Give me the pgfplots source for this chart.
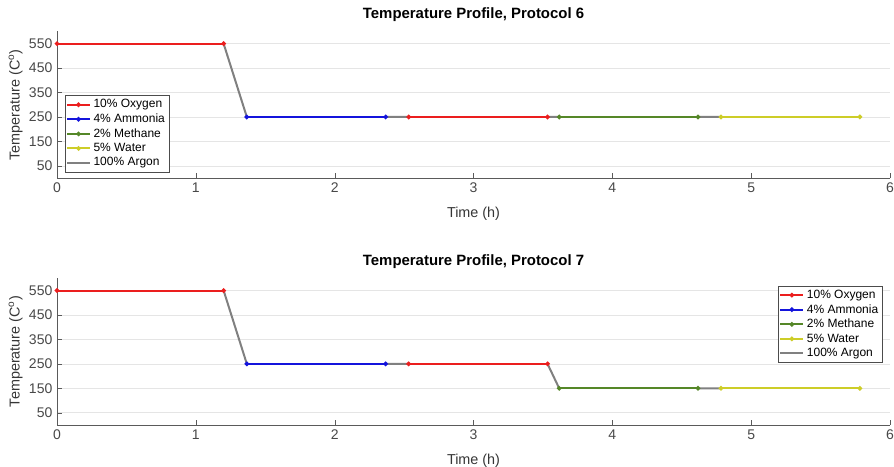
\documentclass[border=0pt]{standalone}
\usepackage{pgfplots}
\pgfplotsset{compat=1.18}
\usepackage{fontspec}
\setmainfont{Liberation Sans}
\definecolor{cred}{RGB}{235,30,30}
\definecolor{cblue}{RGB}{20,20,220}
\definecolor{cgreen}{RGB}{85,135,40}
\definecolor{cyellow}{RGB}{205,205,40}
\definecolor{cgray}{RGB}{128,128,128}
\definecolor{tickgray}{RGB}{90,90,90}
\pgfplotsset{
  prof/.style={
    scale only axis, width=625pt, height=110pt,
    xmin=0, xmax=6, ymin=0, ymax=600,
    axis x line*=bottom, axis y line*=left,
    axis line style={tickgray, line width=0.5pt},
    xtick={0,1,2,3,4,5,6}, ytick={50,150,250,350,450,550},
    tick align=inside, major tick length=4pt,
    tick style={tickgray},
    ymajorgrids, grid style={gray!20, line width=0.4pt},
    /pgf/number format/assume math mode=true,
    tick label style={font=\fontsize{10.5}{12}\selectfont, text=tickgray!80!black},
    xlabel={Time (h)}, ylabel={Temperature (C$^{\mathrm{o}}$)},
    label style={font=\fontsize{10.8}{12}\selectfont, text=tickgray!60!black},
    title style={font=\bfseries\fontsize{11.2}{13}\selectfont, yshift=-2pt},
    xlabel style={yshift=-4pt},
    ylabel style={yshift=-2pt},
    unbounded coords=jump,
    legend style={font=\fontsize{9}{10}\selectfont, draw=black!70, fill=white,
      inner sep=1pt, row sep=-1pt, cells={anchor=west}, line width=0.4pt},
    legend image code/.code={
      \draw[#1, mark repeat=2, mark phase=2] plot coordinates {(0cm,0cm) (0.3cm,0cm) (0.6cm,0cm)};},
    seg/.style={line width=1.5pt, mark=*, mark size=0.9pt},
  }
}
\begin{document}
\begin{tikzpicture}
\begin{axis}[prof, at={(0,0)}, title={Temperature Profile, Protocol 6},
  legend style={at={(0.009,0.04)}, anchor=south west}]
\addplot[cred, seg] coordinates {(0,550) (1.2,550)};
\addlegendentry{10\% Oxygen}
\addplot[cblue, seg] coordinates {(1.367,250) (2.367,250)};
\addlegendentry{4\% Ammonia}
\addplot[cgreen, seg] coordinates {(3.617,250) (4.617,250)};
\addlegendentry{2\% Methane}
\addplot[cyellow, seg] coordinates {(4.783,250) (5.783,250)};
\addlegendentry{5\% Water}
\addplot[cgray, line width=1.5pt] coordinates {(1.2,550) (1.367,250) (nan,nan) (2.367,250) (2.533,250) (nan,nan) (3.533,250) (3.617,250) (nan,nan) (4.617,250) (4.783,250)};
\addlegendentry{100\% Argon}
\addplot[cred, seg, forget plot] coordinates {(2.533,250) (3.533,250)};
\end{axis}
\begin{axis}[prof, at={(0,-185.25pt)}, title={Temperature Profile, Protocol 7},
  legend style={at={(0.991,0.95)}, anchor=north east}]
\addplot[cred, seg] coordinates {(0,550) (1.2,550)};
\addlegendentry{10\% Oxygen}
\addplot[cblue, seg] coordinates {(1.367,250) (2.367,250)};
\addlegendentry{4\% Ammonia}
\addplot[cgreen, seg] coordinates {(3.617,150) (4.617,150)};
\addlegendentry{2\% Methane}
\addplot[cyellow, seg] coordinates {(4.783,150) (5.783,150)};
\addlegendentry{5\% Water}
\addplot[cgray, line width=1.5pt] coordinates {(1.2,550) (1.367,250) (nan,nan) (2.367,250) (2.533,250) (nan,nan) (3.533,250) (3.617,150) (nan,nan) (4.617,150) (4.783,150)};
\addlegendentry{100\% Argon}
\addplot[cred, seg, forget plot] coordinates {(2.533,250) (3.533,250)};
\end{axis}
\pgfresetboundingbox
\useasboundingbox (-42.8pt,-216.1pt) rectangle (628pt,133.6pt);
\end{tikzpicture}
\end{document}
